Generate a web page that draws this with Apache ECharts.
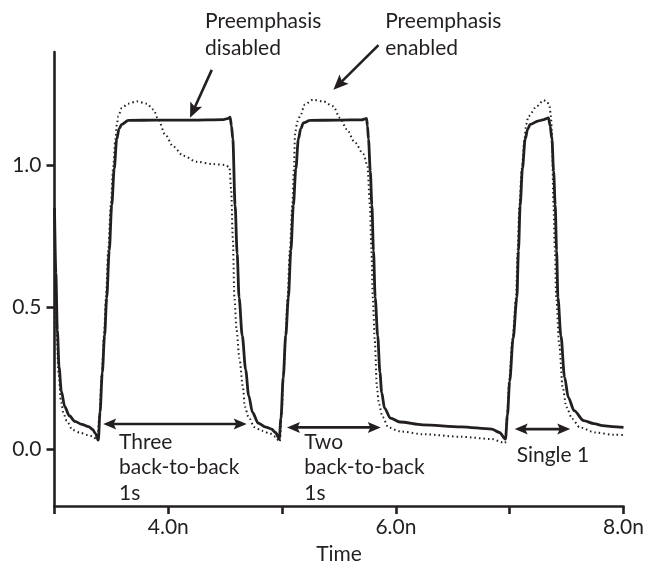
<!DOCTYPE html>
<html><head><meta charset="utf-8">
<script src="https://cdn.jsdelivr.net/npm/echarts@6/dist/echarts.min.js"></script>
<style>html,body{margin:0;padding:0;background:#fff}#c{width:649px;height:570px}</style>
</head><body><div id="c"></div>
<script>
// Preemphasis disabled (solid line): time (ns) and voltage
const disabledT = [3.000,3.012,3.025,3.040,3.060,3.090,3.130,3.180,3.240,3.300,3.335,3.360,3.385,3.400,3.420,3.440,3.459,3.481,3.503,3.525,3.547,3.568,3.591,3.649,3.900,4.200,4.484,4.528,4.543,4.555,4.567,4.587,4.605,4.622,4.650,4.680,4.706,4.740,4.790,4.857,4.908,4.942,4.975,4.990,5.010,5.032,5.055,5.077,5.099,5.121,5.143,5.164,5.187,5.245,5.500,5.700,5.730,5.742,5.750,5.759,5.775,5.789,5.803,5.818,5.840,5.860,5.875,5.900,5.951,6.035,6.237,6.573,6.842,6.910,6.963,6.980,7.000,7.030,7.063,7.077,7.092,7.112,7.136,7.158,7.180,7.253,7.300,7.327,7.341,7.355,7.371,7.386,7.400,7.412,7.424,7.450,7.482,7.515,7.566,7.650,7.740,7.818,7.900,8.000];
const disabledV = [0.85,0.62,0.42,0.29,0.205,0.150,0.118,0.098,0.088,0.080,0.070,0.055,0.032,0.13,0.27,0.40,0.534,0.70,0.860,0.99,1.093,1.130,1.145,1.159,1.160,1.160,1.162,1.166,1.170,1.14,1.093,0.860,0.69,0.534,0.40,0.28,0.190,0.130,0.092,0.078,0.071,0.059,0.036,0.11,0.254,0.40,0.534,0.70,0.860,0.99,1.093,1.130,1.150,1.159,1.160,1.161,1.164,1.166,1.14,1.093,0.98,0.860,0.70,0.534,0.40,0.27,0.20,0.145,0.110,0.096,0.086,0.079,0.071,0.059,0.036,0.12,0.24,0.39,0.534,0.70,0.860,0.99,1.093,1.128,1.145,1.157,1.162,1.166,1.168,1.14,1.093,0.98,0.860,0.70,0.534,0.40,0.254,0.183,0.136,0.101,0.090,0.083,0.080,0.077];
// Preemphasis enabled (dotted line)
const enabledT = [3.000,3.010,3.020,3.035,3.058,3.080,3.108,3.158,3.226,3.293,3.343,3.365,3.377,3.395,3.415,3.435,3.452,3.472,3.495,3.515,3.535,3.548,3.561,3.591,3.649,3.723,3.811,3.869,3.913,3.971,4.044,4.132,4.250,4.396,4.499,4.537,4.552,4.567,4.581,4.600,4.625,4.656,4.672,4.706,4.756,4.824,4.891,4.942,4.970,4.980,4.995,5.012,5.030,5.048,5.068,5.090,5.104,5.114,5.135,5.158,5.200,5.273,5.361,5.449,5.508,5.567,5.640,5.715,5.750,5.772,5.785,5.797,5.815,5.833,5.850,5.884,5.934,6.035,6.237,6.573,6.842,6.943,6.960,6.978,6.995,7.025,7.056,7.070,7.085,7.107,7.130,7.145,7.165,7.239,7.297,7.327,7.350,7.362,7.371,7.385,7.397,7.409,7.435,7.465,7.499,7.549,7.616,7.751,7.919,8.000];
const enabledV = [0.72,0.55,0.40,0.27,0.165,0.125,0.100,0.068,0.058,0.050,0.044,0.036,0.030,0.12,0.26,0.40,0.534,0.70,0.860,0.99,1.093,1.145,1.174,1.203,1.218,1.226,1.218,1.197,1.162,1.110,1.067,1.034,1.013,1.005,1.002,0.994,0.918,0.743,0.534,0.42,0.32,0.219,0.150,0.113,0.078,0.065,0.056,0.044,0.030,0.027,0.12,0.254,0.40,0.534,0.70,0.860,0.99,1.116,1.155,1.174,1.215,1.232,1.226,1.209,1.168,1.128,1.081,1.040,0.999,0.860,0.70,0.534,0.38,0.219,0.160,0.113,0.077,0.063,0.053,0.044,0.036,0.024,0.022,0.12,0.24,0.39,0.534,0.70,0.860,0.99,1.093,1.145,1.174,1.209,1.230,1.226,1.209,1.174,1.116,0.860,0.70,0.534,0.37,0.219,0.148,0.107,0.077,0.059,0.051,0.050];
const xTickLabels = [4, 6, 8];
const yTickLabels = [0, 0.5, 1.0];
const xTicks = [3, 4, 5, 6, 7, 8];

const INK = '#231f20';
const FONT = 'Lato';
const chart = echarts.init(document.getElementById('c'), null, {renderer: 'canvas'});
const zip = (a, b) => a.map((t, i) => [t, b[i]]);

const option = {
  animation: false,
  backgroundColor: '#fff',
  grid: {left: 54.5, right: 25.5, top: 52, bottom: 60},
  xAxis: {
    type: 'value', min: 3, max: 8,
    name: 'Time', nameLocation: 'middle', nameGap: 38,
    nameTextStyle: {color: INK, fontFamily: FONT, fontSize: 21},
    axisLine: {show: true, onZero: false, lineStyle: {color: INK, width: 2.6}},
    axisTick: {show: true, length: 8, lineStyle: {color: INK, width: 2.6}, customValues: xTicks},
    axisLabel: {color: INK, fontFamily: FONT, fontSize: 21, margin: 11, customValues: xTickLabels,
      formatter: v => v.toFixed(1) + 'n'},
    splitLine: {show: false}
  },
  yAxis: {
    type: 'value', min: -0.2, max: 1.4,
    axisLine: {show: true, onZero: false, lineStyle: {color: INK, width: 2.6}},
    axisTick: {show: true, length: 8, lineStyle: {color: INK, width: 2.6}, customValues: yTickLabels},
    axisLabel: {color: INK, fontFamily: FONT, fontSize: 21, margin: 13, customValues: yTickLabels,
      formatter: v => v.toFixed(1)},
    splitLine: {show: false}
  },
  series: [
    {name: 'Preemphasis enabled', type: 'line', data: zip(enabledT, enabledV), showSymbol: false,
      smooth: 0.3, smoothMonotone: 'x', z: 2,
      lineStyle: {color: INK, width: 2, type: [1.5, 3]}},
    {name: 'Preemphasis disabled', type: 'line', data: zip(disabledT, disabledV), showSymbol: false,
      smooth: 0.3, smoothMonotone: 'x', z: 3,
      lineStyle: {color: INK, width: 2.8}}
  ]
};
chart.setOption(option);

const px = (t, v) => chart.convertToPixel({gridIndex: 0}, [t, v]);

function head(tip, ux, uy, len, half) {
  const nx = -uy, ny = ux;
  return {type: 'polygon', z: 10, shape: {points: [
    tip,
    [tip[0] - ux * len + nx * half, tip[1] - uy * len + ny * half],
    [tip[0] - ux * len * 0.8, tip[1] - uy * len * 0.8],
    [tip[0] - ux * len - nx * half, tip[1] - uy * len - ny * half]
  ]}, style: {fill: INK}};
}
function arrow(a, b, startHead, len, half, w) {
  const dx = b[0] - a[0], dy = b[1] - a[1], L = Math.hypot(dx, dy);
  const ux = dx / L, uy = dy / L;
  const els = [];
  let s = a;
  if (startHead) { s = [a[0] + ux * len * 0.7, a[1] + uy * len * 0.7]; els.push(head(a, -ux, -uy, len, half)); }
  const e = [b[0] - ux * len * 0.7, b[1] - uy * len * 0.7];
  els.push(head(b, ux, uy, len, half));
  els.push({type: 'line', z: 10, shape: {x1: s[0], y1: s[1], x2: e[0], y2: e[1]}, style: {stroke: INK, lineWidth: w}});
  return els;
}
function label(t, v, text, lh) {
  const p = px(t, v);
  return {type: 'text', z: 10, x: p[0], y: p[1], style: {text: text, fill: INK, font: '21px ' + FONT,
    fontSize: 21, fontFamily: FONT, lineHeight: lh, align: 'left', verticalAlign: 'top',
    textAlign: 'left', textVerticalAlign: 'top'}};
}

const graphic = [].concat(
  arrow(px(4.382, 1.337), px(4.191, 1.168), false, 15, 6.5, 2.6),
  arrow(px(5.847, 1.4245), px(5.451, 1.267), false, 15, 6.5, 2.6),
  arrow(px(3.428, 0.089), px(4.689, 0.089), true, 13, 5.5, 2.6),
  arrow(px(5.043, 0.077), px(5.867, 0.077), true, 13, 5.5, 2.6),
  arrow(px(7.044, 0.071), px(7.532, 0.071), true, 13, 5.5, 2.6),
  [
    label(4.323, 1.5558, 'Preemphasis\ndisabled', 27),
    label(5.906, 1.5558, 'Preemphasis\nenabled', 27),
    label(3.567, 0.0707, 'Three\nback-to-back\n1s', 25.5),
    label(5.195, 0.0707, 'Two\nback-to-back\n1s', 25.5),
    label(7.061, 0.0236, 'Single 1', 25.5)
  ]
);
chart.setOption({graphic: graphic});
</script>
</body></html>
